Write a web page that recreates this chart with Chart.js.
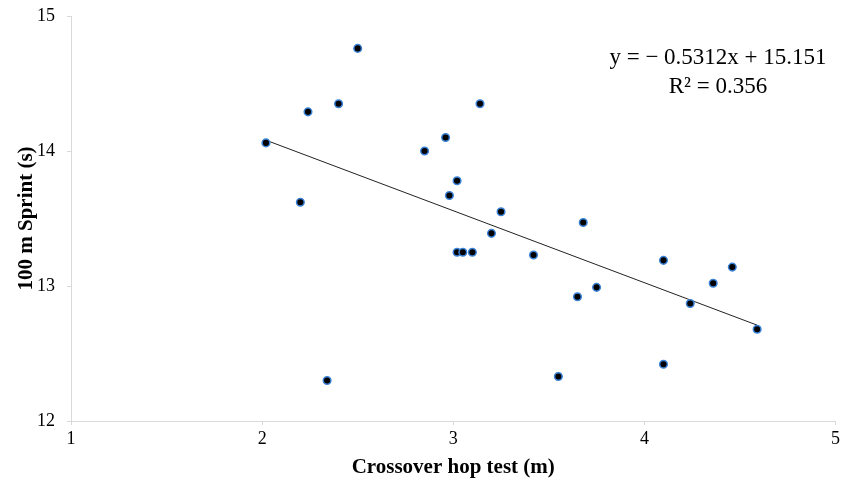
<!DOCTYPE html>
<html>
<head>
<meta charset="utf-8">
<script src="https://cdn.jsdelivr.net/npm/chart.js@4"></script>
<style>
  html, body { margin: 0; padding: 0; background: #fff; }
  #wrap { width: 843px; height: 481px; }
</style>
</head>
<body>
<div id="wrap"><canvas id="chart" width="843" height="481"></canvas></div>
<script>
// hop test distance (m) vs 100 m sprint time (s)
const hopX = [2.02, 2.20, 2.24, 2.34, 2.40, 2.50, 2.85, 2.96, 2.98, 3.02, 3.02, 3.05, 3.10, 3.14,
  3.20, 3.25, 3.42, 3.55, 3.65, 3.68, 3.75, 4.10, 4.10, 4.24, 4.36, 4.46, 4.59];
const sprintY = [14.06, 13.62, 14.29, 12.30, 14.35, 14.76, 14.00, 14.10, 13.67, 13.78, 13.25, 13.25, 13.25, 14.35,
  13.39, 13.55, 13.23, 12.33, 12.92, 13.47, 12.99, 13.19, 12.42, 12.87, 13.02, 13.14, 12.68];

// linear trend endpoints
const trendX = [2.02, 4.59];
const trendY = [14.08, 12.71];

const xTicks = [1, 2, 3, 4, 5];
const yTicks = [12, 13, 14, 15];

const eqLines = ["y = \u2212 0.5312x + 15.151", "R\u00b2 = 0.356"];

const serif = "'Liberation Serif', 'Times New Roman', serif";

const equationLabel = {
  id: "equationLabel",
  afterDraw(chart) {
    const ctx = chart.ctx;
    ctx.save();
    ctx.font = "23px " + serif;
    ctx.fillStyle = "#000";
    ctx.textAlign = "center";
    ctx.textBaseline = "middle";
    ctx.fillText(eqLines[0], 718, 58);
    ctx.fillText(eqLines[1], 718, 87);
    ctx.restore();
  }
};

new Chart(document.getElementById("chart").getContext("2d"), {
  type: "scatter",
  data: {
    datasets: [
      {
        label: "Sprint",
        data: hopX.map((x, i) => ({ x: x, y: sprintY[i] })),
        backgroundColor: "#000",
        borderColor: "#3b82d6",
        borderWidth: 1.5,
        pointRadius: 3.8,
        order: 1
      },
      {
        label: "Trend",
        type: "line",
        data: trendX.map((x, i) => ({ x: x, y: trendY[i] })),
        borderColor: "#222",
        borderWidth: 1,
        pointRadius: 0,
        fill: false,
        order: 2
      }
    ]
  },
  options: {
    responsive: false,
    animation: false,
    layout: { padding: { top: 16, right: 7, bottom: 0, left: 0 } },
    plugins: {
      legend: { display: false },
      tooltip: { enabled: false }
    },
    scales: {
      x: {
        type: "linear",
        min: 1,
        max: 5,
        afterBuildTicks: s => { s.ticks = xTicks.map(v => ({ value: v })); },
        afterFit: s => { s.height = 60; },
        ticks: { color: "#000", font: { family: serif, size: 18 }, padding: 3 },
        grid: { drawOnChartArea: false, color: "#d9d9d9", tickLength: 4 },
        border: { color: "#d9d9d9" },
        title: {
          display: true,
          text: "Crossover hop test (m)",
          color: "#000",
          font: { family: serif, size: 21, weight: "bold" },
          padding: { top: 0, bottom: 1 }
        }
      },
      y: {
        type: "linear",
        min: 12,
        max: 15,
        afterBuildTicks: s => { s.ticks = yTicks.map(v => ({ value: v })); },
        afterFit: s => { s.width = 71; s.paddingTop = 0; s.paddingBottom = 0; },
        ticks: { color: "#000", font: { family: serif, size: 18 }, padding: 12 },
        grid: { drawOnChartArea: false, color: "#d9d9d9", tickLength: 4 },
        border: { color: "#d9d9d9" },
        title: {
          display: true,
          text: "100 m Sprint (s)",
          color: "#000",
          font: { family: serif, size: 21, weight: "bold" },
          padding: { top: 14, bottom: 0 }
        }
      }
    }
  },
  plugins: [equationLabel]
});
</script>
</body>
</html>
